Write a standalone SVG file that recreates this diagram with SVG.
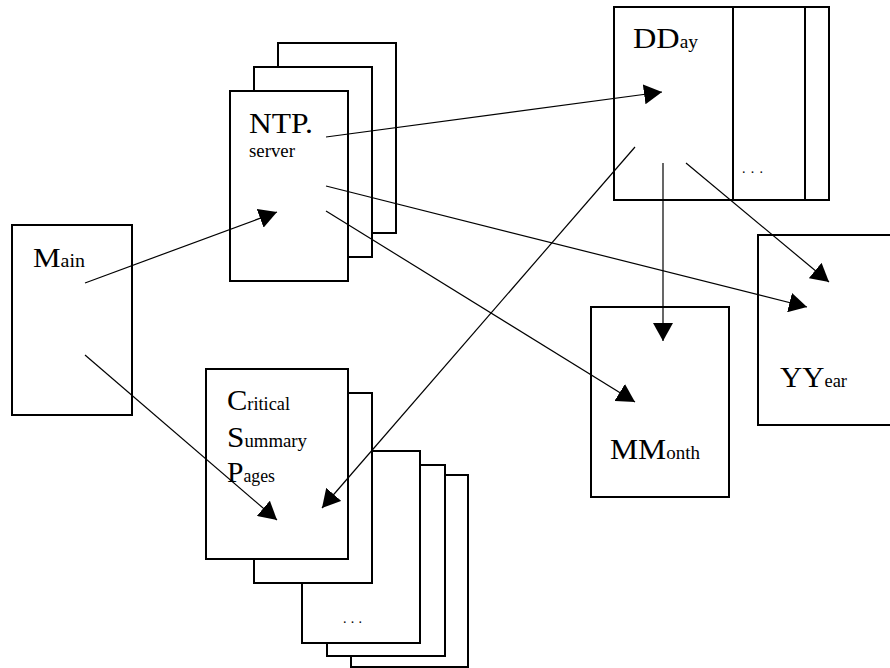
<svg xmlns="http://www.w3.org/2000/svg" width="890" height="668" viewBox="0 0 890 668">
<defs>
<style>
.box{fill:#fff;stroke:#000;stroke-width:2}
.ln{fill:none;stroke:#000;stroke-width:1.2}
.t{font-family:"Liberation Serif","DejaVu Serif","Noto Serif",serif;fill:#000}
.big{font-size:30px}
.sm{font-size:18px}
.dots{font-size:14px}
</style>
<marker id="ah" markerUnits="userSpaceOnUse" markerWidth="20" markerHeight="20" refX="18" refY="10" orient="auto">
<path d="M0,0 L18,10 L0,20 z" fill="#000"/>
</marker>
</defs>
<rect width="890" height="668" fill="#fff"/>

<g id="main">
<rect class="box" x="12" y="225" width="120" height="190"/>
<text class="t" font-family="Liberation Serif, serif" x="33" y="267" textLength="52" lengthAdjust="spacingAndGlyphs"><tspan class="big" style="font-size:28px">M</tspan><tspan class="sm">ain</tspan></text>
</g>

<g id="ntp">
<rect class="box" x="278" y="43" width="118" height="190"/>
<rect class="box" x="254" y="67" width="118" height="190"/>
<rect class="box" x="230" y="91" width="118" height="190"/>
<text class="t big" font-family="Liberation Serif, serif" x="249" y="133" textLength="64" lengthAdjust="spacingAndGlyphs">NTP.</text>
<text class="t sm" font-family="Liberation Serif, serif" x="249" y="157" textLength="46" lengthAdjust="spacingAndGlyphs">server</text>
</g>

<g id="dday">
<rect class="box" x="614" y="7" width="215" height="193"/>
<rect class="box" x="614" y="7" width="191" height="193"/>
<rect class="box" x="614" y="7" width="119" height="193"/>
<text class="t" font-family="Liberation Serif, serif" x="633" y="48" textLength="65" lengthAdjust="spacingAndGlyphs"><tspan class="big">DD</tspan><tspan class="sm">ay</tspan></text>
<text class="t dots" font-family="Liberation Serif, serif" x="742" y="173" textLength="21" lengthAdjust="spacing">...</text>
</g>

<g id="month">
<rect class="box" x="591" y="307" width="138" height="190"/>
<text class="t" font-family="Liberation Serif, serif" x="610" y="459" textLength="90" lengthAdjust="spacingAndGlyphs"><tspan class="big">MM</tspan><tspan class="sm">onth</tspan></text>
</g>

<g id="year">
<rect class="box" x="758" y="235" width="136" height="190"/>
<text class="t" font-family="Liberation Serif, serif" x="780" y="387" textLength="67" lengthAdjust="spacingAndGlyphs"><tspan class="big">YY</tspan><tspan class="sm">ear</tspan></text>
</g>

<g id="critical">
<rect class="box" x="351" y="475" width="117" height="192"/>
<rect class="box" x="327" y="465" width="118" height="191"/>
<rect class="box" x="302" y="451" width="118" height="192"/>
<rect class="box" x="254" y="393" width="118" height="190"/>
<rect class="box" x="206" y="369" width="142" height="190"/>
<text class="t" font-family="Liberation Serif, serif" x="227" y="410" textLength="63" lengthAdjust="spacingAndGlyphs"><tspan class="big">C</tspan><tspan class="sm">ritical</tspan></text>
<text class="t" font-family="Liberation Serif, serif" x="227" y="447" textLength="80" lengthAdjust="spacingAndGlyphs"><tspan class="big">S</tspan><tspan class="sm">ummary</tspan></text>
<text class="t" font-family="Liberation Serif, serif" x="227" y="482" textLength="48" lengthAdjust="spacingAndGlyphs"><tspan class="big">P</tspan><tspan class="sm">ages</tspan></text>
<text class="t dots" font-family="Liberation Serif, serif" x="343" y="623" textLength="19" lengthAdjust="spacing">...</text>
</g>

<g id="connectors">
<line class="ln" x1="85" y1="283" x2="277" y2="212" marker-end="url(#ah)"/>
<line class="ln" x1="85" y1="355" x2="277" y2="520" marker-end="url(#ah)"/>
<line class="ln" x1="326" y1="137" x2="662" y2="92" marker-end="url(#ah)"/>
<line class="ln" x1="326" y1="186" x2="807" y2="307" marker-end="url(#ah)"/>
<line class="ln" x1="326" y1="211" x2="635" y2="402" marker-end="url(#ah)"/>
<line class="ln" x1="635" y1="147" x2="322" y2="508" marker-end="url(#ah)"/>
<line class="ln" x1="663" y1="163" x2="663" y2="341" marker-end="url(#ah)"/>
<line class="ln" x1="686" y1="163" x2="829" y2="282" marker-end="url(#ah)"/>
</g>
</svg>
